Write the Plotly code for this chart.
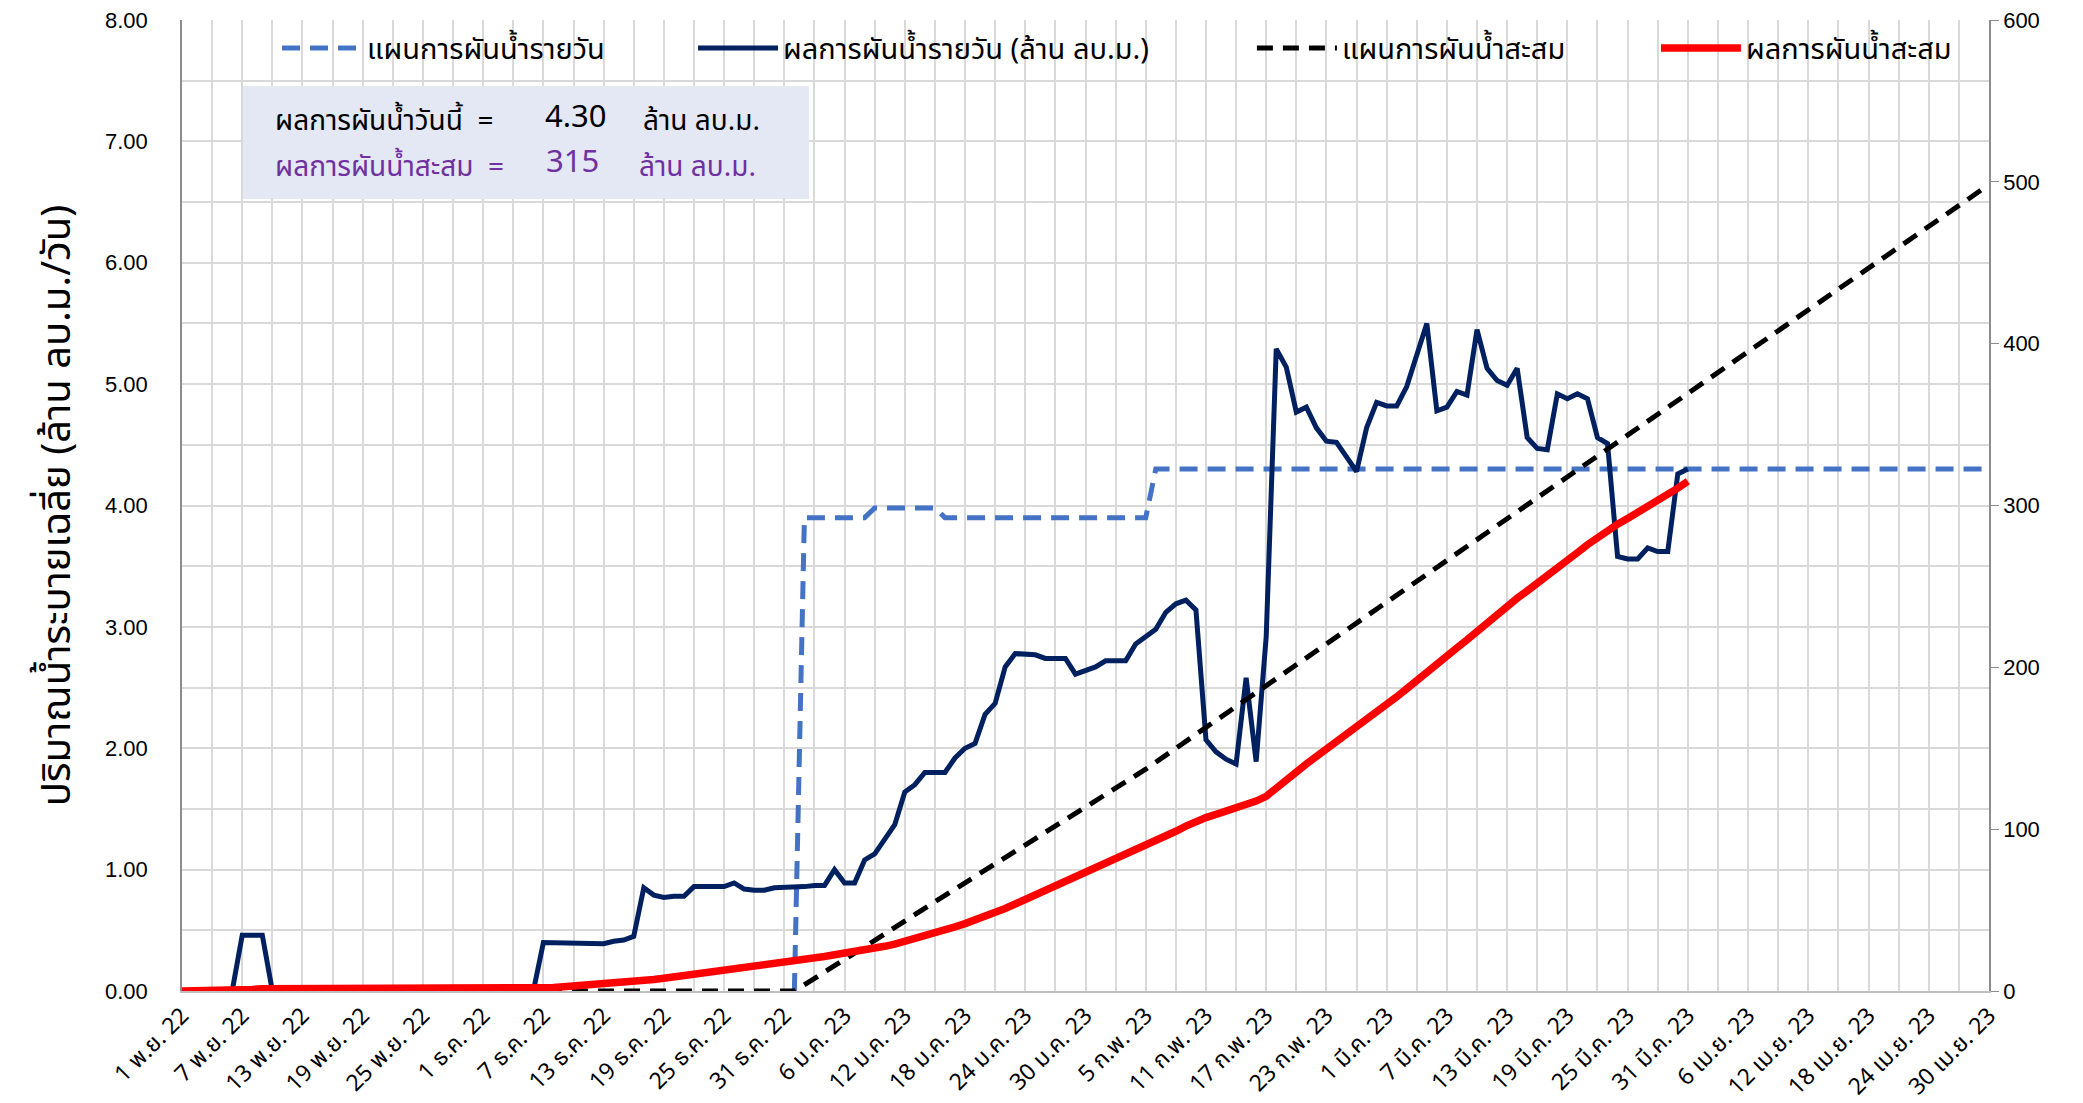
import pandas as pd
import plotly.graph_objects as go

# ---- daily actual diversion (million m3/day), 1 Nov 2022 - 31 Mar 2023 ----
actual_nov = [0, 0, 0, 0, 0, 0, 0.46, 0.46, 0.46, 0,
              0, 0, 0, 0, 0, 0, 0, 0, 0, 0,
              0, 0, 0, 0, 0, 0, 0, 0, 0, 0]
actual_dec = [0, 0, 0, 0, 0, 0, 0.40, 0.40, 0.39, 0.39,
              0.39, 0.40, 0.39, 0.41, 0.42, 0.45, 0.85, 0.79, 0.77, 0.78,
              0.78, 0.86, 0.86, 0.86, 0.86, 0.89, 0.84, 0.83, 0.83, 0.85,
              0.85]
actual_jan = [0.85, 0.86, 0.87, 0.87, 1.00, 0.89, 0.89, 1.08, 1.13, 1.25,
              1.37, 1.64, 1.70, 1.80, 1.80, 1.80, 1.92, 2.00, 2.04, 2.28,
              2.37, 2.67, 2.78, 2.78, 2.77, 2.74, 2.74, 2.74, 2.61, 2.64,
              2.67]
actual_feb = [2.72, 2.72, 2.72, 2.86, 2.92, 2.98, 3.12, 3.19, 3.22, 3.14,
              2.07, 1.97, 1.91, 1.87, 2.58, 1.89, 2.92, 5.29, 5.14, 4.77,
              4.81, 4.64, 4.53, 4.52, 4.40, 4.28, 4.64, 4.85]
actual_mar = [4.82, 4.82, 4.98, 5.25, 5.50, 4.78, 4.81, 4.94, 4.91, 5.45,
              5.13, 5.03, 4.99, 5.13, 4.56, 4.47, 4.46, 4.92, 4.88, 4.92,
              4.88, 4.56, 4.51, 3.58, 3.56, 3.56, 3.65, 3.62, 3.62, 4.26,
              4.30]

# ---- cumulative actual diversion (million m3) ----
cum_nov = [0, 0, 0, 0, 0, 0, 0.46, 0.92, 1.38, 1.38,
           1.38, 1.38, 1.38, 1.38, 1.38, 1.38, 1.38, 1.38, 1.38, 1.38,
           1.38, 1.38, 1.38, 1.38, 1.38, 1.38, 1.38, 1.38, 1.38, 1.38]
cum_dec = [1.38, 1.38, 1.38, 1.38, 1.38, 1.38, 1.78, 2.18, 2.57, 2.96,
           3.35, 3.75, 4.14, 4.55, 4.97, 5.42, 6.27, 7.06, 7.83, 8.61,
           9.39, 10.25, 11.11, 11.97, 12.83, 13.72, 14.56, 15.39, 16.22, 17.07,
           17.92]
cum_jan = [18.77, 19.63, 20.50, 21.37, 22.37, 23.26, 24.15, 25.23, 26.36, 27.61,
           28.98, 30.62, 32.32, 34.12, 35.92, 37.72, 39.64, 41.64, 43.68, 45.96,
           48.33, 51.00, 53.78, 56.56, 59.33, 62.07, 64.81, 67.55, 70.16, 72.80,
           75.47]
cum_feb = [78.19, 80.91, 83.63, 86.49, 89.41, 92.39, 95.51, 98.70, 101.92, 105.06,
           107.13, 109.10, 111.01, 112.88, 115.46, 117.35, 120.27, 125.56, 130.70, 135.47,
           140.28, 144.92, 149.45, 153.97, 158.37, 162.65, 167.29, 172.14]
cum_mar = [176.96, 181.78, 186.76, 192.01, 197.51, 202.29, 207.10, 212.04, 216.95, 222.40,
           227.53, 232.56, 237.55, 242.68, 247.24, 251.71, 256.17, 261.09, 265.97, 270.89,
           275.77, 280.33, 284.84, 288.42, 291.98, 295.54, 299.19, 302.81, 306.43, 310.69,
           314.99]

# ---- daily plan (million m3/day), values at the dates where it changes ----
plan_dates = ["2023-01-01", "2023-01-02", "2023-01-08", "2023-01-09", "2023-01-15",
              "2023-01-16", "2023-02-05", "2023-02-06", "2023-04-30"]
plan_daily = [0, 3.90, 3.90, 3.98, 3.98, 3.90, 3.90, 4.30, 4.30]

# ---- cumulative plan (million m3) ----
plan_cum_dates = ["2022-11-01", "2023-01-01", "2023-01-08", "2023-01-15",
                  "2023-02-05", "2023-04-30"]
plan_cum = [0, 0, 27.30, 55.16, 137.06, 498.26]

# ---- x-axis labels (every 6 days) ----
tick_dates = ["2022-11-01", "2022-11-07", "2022-11-13", "2022-11-19", "2022-11-25",
              "2022-12-01", "2022-12-07", "2022-12-13", "2022-12-19", "2022-12-25",
              "2022-12-31", "2023-01-06", "2023-01-12", "2023-01-18", "2023-01-24",
              "2023-01-30", "2023-02-05", "2023-02-11", "2023-02-17", "2023-02-23",
              "2023-03-01", "2023-03-07", "2023-03-13", "2023-03-19", "2023-03-25",
              "2023-03-31", "2023-04-06", "2023-04-12", "2023-04-18", "2023-04-24",
              "2023-04-30"]
tick_labels = ["1 พ.ย. 22", "7 พ.ย. 22", "13 พ.ย. 22", "19 พ.ย. 22", "25 พ.ย. 22",
               "1 ธ.ค. 22", "7 ธ.ค. 22", "13 ธ.ค. 22", "19 ธ.ค. 22", "25 ธ.ค. 22",
               "31 ธ.ค. 22", "6 ม.ค. 23", "12 ม.ค. 23", "18 ม.ค. 23", "24 ม.ค. 23",
               "30 ม.ค. 23", "5 ก.พ. 23", "11 ก.พ. 23", "17 ก.พ. 23", "23 ก.พ. 23",
               "1 มี.ค. 23", "7 มี.ค. 23", "13 มี.ค. 23", "19 มี.ค. 23", "25 มี.ค. 23",
               "31 มี.ค. 23", "6 เม.ย. 23", "12 เม.ย. 23", "18 เม.ย. 23", "24 เม.ย. 23",
               "30 เม.ย. 23"]

today_value = 4.30
total_value = 315

actual_daily = actual_nov + actual_dec + actual_jan + actual_feb + actual_mar
actual_cum = cum_nov + cum_dec + cum_jan + cum_feb + cum_mar
actual_dates = pd.date_range("2022-11-01", periods=len(actual_daily), freq="D")

THAI = "Tahoma, 'Noto Sans Thai', 'Noto Sans', 'DejaVu Sans', sans-serif"
NUM = "'Liberation Sans Narrow', 'Arial Narrow', 'Liberation Sans', sans-serif"
GRID = "#d9d9d9"

fig = go.Figure()
fig.add_trace(go.Scatter(
    x=plan_dates, y=plan_daily, name="แผนการผันน้ำรายวัน", mode="lines",
    line=dict(color="#4472C4", width=5, dash="18px,10px"),
    legend="legend", yaxis="y"))
fig.add_trace(go.Scatter(
    x=actual_dates, y=actual_daily, name="ผลการผันน้ำรายวัน (ล้าน ลบ.ม.)", mode="lines",
    line=dict(color="#002060", width=5),
    legend="legend2", yaxis="y"))
fig.add_trace(go.Scatter(
    x=plan_cum_dates, y=plan_cum, name="แผนการผันน้ำสะสม", mode="lines",
    line=dict(color="#000000", width=5, dash="16px,10px"),
    legend="legend3", yaxis="y2"))
fig.add_trace(go.Scatter(
    x=actual_dates, y=actual_cum, name="ผลการผันน้ำสะสม", mode="lines",
    line=dict(color="#FF0000", width=7.5),
    legend="legend4", yaxis="y2"))

# summary box
fig.add_shape(type="rect", xref="paper", yref="paper",
              x0=0.0338, x1=0.347, y0=0.8157, y1=0.932,
              fillcolor="#E3E8F4", line=dict(width=0), layer="above")

black_txt = dict(family=THAI, size=28, color="#000000")
purple_txt = dict(family=THAI, size=28, color="#7030A0")
ann = [
    dict(x=0.0505, y=0.895, text="ผลการผันน้ำวันนี้  =", font=black_txt, xanchor="left"),
    dict(x=0.218, y=0.900, text=f"{today_value:.2f}", font=dict(family=THAI, size=31, color="#000000"), xanchor="center"),
    dict(x=0.2540, y=0.895, text="ล้าน ลบ.ม.", font=black_txt, xanchor="left"),
    dict(x=0.0505, y=0.848, text="ผลการผันน้ำสะสม  =", font=purple_txt, xanchor="left"),
    dict(x=0.216, y=0.853, text=f"{total_value}", font=dict(family=THAI, size=31, color="#7030A0"), xanchor="center"),
    dict(x=0.2520, y=0.848, text="ล้าน ลบ.ม.", font=purple_txt, xanchor="left"),
]
for a in ann:
    fig.add_annotation(xref="paper", yref="paper", yanchor="middle", showarrow=False, **a)

leg_common = dict(orientation="h", yanchor="middle", y=0.971, xanchor="left",
                  itemwidth=80, bgcolor="rgba(0,0,0,0)",
                  font=dict(family=THAI, size=29, color="#000000"))

fig.update_layout(
    width=2083, height=1103,
    margin=dict(l=182, r=94, t=20, b=112, autoexpand=False),
    paper_bgcolor="white", plot_bgcolor="white",
    showlegend=True,
    legend=dict(x=0.0526, **leg_common),
    legend2=dict(x=0.2828, **leg_common),
    legend3=dict(x=0.5921, **leg_common),
    legend4=dict(x=0.8157, **leg_common),
    xaxis=dict(
        type="date", range=["2022-11-01", "2023-04-30"], automargin=False,
        tickmode="array", tickvals=tick_dates, ticktext=tick_labels,
        tickangle=-45, tickfont=dict(family=THAI, size=23, color="#000000"),
        showgrid=True, gridcolor=GRID, gridwidth=1.5,
        minor=dict(dtick=3 * 86400000, tick0="2022-11-01", showgrid=True,
                   gridcolor=GRID, gridwidth=1.5),
        showline=True, linecolor="#bfbfbf", linewidth=2,
        ticks="", zeroline=False),
    yaxis=dict(
        range=[0, 8], dtick=1, tickformat=".2f", automargin=False,
        tickfont=dict(family=NUM, size=22, color="#000000"),
        ticklabelstandoff=28,
        showgrid=True, gridcolor=GRID, gridwidth=1.5,
        minor=dict(dtick=0.5, showgrid=True, gridcolor=GRID, gridwidth=1.5),
        showline=True, linecolor="#8c8c8c", linewidth=1.5,
        zeroline=False,
        title=dict(text="ปริมาณน้ำระบายเฉลี่ย (ล้าน ลบ.ม./วัน)",
                   font=dict(family=THAI, size=40, color="#000000"), standoff=22)),
    yaxis2=dict(
        overlaying="y", side="right", range=[0, 600], dtick=100, automargin=False,
        tickfont=dict(family=NUM, size=22, color="#000000"),
        showgrid=False, zeroline=False,
        showline=True, linecolor="#8c8c8c", linewidth=1.5,
        ticks="outside", ticklen=8, tickcolor="#8c8c8c"),
)

fig.write_html("out.html")
